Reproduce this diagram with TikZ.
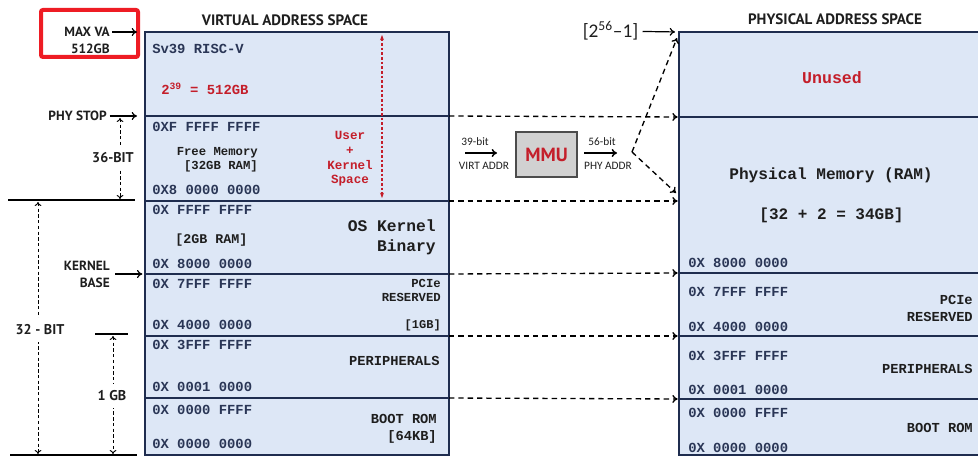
\documentclass[tikz,border=0pt]{standalone}
\usepackage{fontspec}
\setmainfont{Carlito}
\setmonofont{Liberation Mono}
\newfontfamily\sidefont{PT Sans}
\usetikzlibrary{arrows.meta}
\definecolor{bandfill}{HTML}{DDE7F6}
\definecolor{bandline}{HTML}{1F2D4F}
\definecolor{addrcol}{HTML}{2A3656}
\definecolor{lblcol}{HTML}{1E1E1E}
\definecolor{redtxt}{HTML}{C41E2A}
\definecolor{hilite}{HTML}{EE1C24}

\begin{document}
\begin{tikzpicture}[x=0.75pt, y=-0.75pt,
  band/.style={fill=bandfill, draw=bandline, line width=1.9pt},
  mono/.style 2 args={font=\ttfamily\bfseries\fontsize{#1}{#2}\selectfont, inner sep=0pt},
  addr/.style={mono={10.4}{12}, text=addrcol, anchor=west},
  region/.style={mono={10.3}{12.8}, text=lblcol, align=right, anchor=east},
  side/.style={font=\sidefont\bfseries\fontsize{10}{12.75}\selectfont, inner sep=0pt, align=right, text=lblcol},
  bits/.style={side, font=\sidefont\bfseries\fontsize{10.6}{13}\selectfont, fill=white, inner xsep=1pt, inner ysep=5pt},
  ptr/.style={-{To[length=4pt,width=6pt]}, line width=0.9pt},
  span/.style={{To[length=3pt,width=5pt]}-{To[length=3pt,width=5pt]}, line width=0.7pt, dash pattern=on 2.5pt off 1.8pt},
  maparrow/.style={-{To[length=4pt,width=6pt]}, line width=1pt, dash pattern=on 4pt off 3pt},
  small/.style={font=\fontsize{8.5}{10}\selectfont, inner sep=0pt, text=lblcol}]
		\useasboundingbox (0,0) rectangle (978,456);
		% headings
		\node[font=\sidefont\bfseries\fontsize{11.3}{14}\selectfont, text=lblcol] (vhead) at (285,20) {VIRTUAL ADDRESS SPACE};
		\node[font=\sidefont\bfseries\fontsize{11.3}{14}\selectfont, text=lblcol] (phead) at (835,19) {PHYSICAL ADDRESS SPACE};
		% virtual bands: top / bottom / name
		\foreach \yt/\yb/\nm in {32/116/v1, 116/201/v2, 201/274/v3, 274/336/v4, 336/398/v5, 398/455/v6} {
			\filldraw[band] (145,\yt) rectangle (449,\yb);
			\coordinate (\nm-nw) at (145,\yt);
			\coordinate (\nm-ne) at (449,\yt);
		}
		% physical bands
		\foreach \yt/\yb/\nm in {32/117/p1, 117/273/p2, 273/336/p3, 336/399/p4, 399/455/p5} {
			\filldraw[band] (679,\yt) rectangle (992,\yb);
			\coordinate (\nm-nw) at (679,\yt);
		}
		\coordinate (pk) at (679,201);
		% virtual contents
		\node[addr] (sv39) at (152,49) {Sv39 RISC-V};
		\node[addr, text=redtxt] (vsize) at (161,89) {2\textsuperscript{39} = 512GB};
		\node[addr] at (152,127) {0XF FFFF FFFF};
		\node[mono={9.2}{10.5}, text=lblcol, align=right, anchor=east] (freemem) at (258,160) {Free Memory\\{}[32GB RAM]};
		\node[addr] at (152,190) {0X8 0000 0000};
		\node[mono={9.4}{11}, text=redtxt, align=center] (uks) at (350,159) {User\\+\\Kernel\\Space};
		\coordinate (uks-t) at (382,35);
		\coordinate (uks-b) at (382,198);
		\draw[redtxt, {Stealth[length=4pt]}-{Stealth[length=4pt]}, line width=0.8pt, dash pattern=on 2pt off 1.5pt] (uks-t) -- (uks-b);
		\node[addr] at (152,210) {0X FFFF FFFF};
		\node[mono={10}{12}, text=lblcol, anchor=west] at (175,240) {[2GB RAM]};
		\node[mono={12.2}{15}, text=lblcol, align=right, anchor=east] (oskern) at (436,237) {OS Kernel\\Binary};
		\node[addr] at (152,264) {0X 8000 0000};
		\node[addr] at (152,284) {0X 7FFF FFFF};
		\node[mono={9.2}{10}, text=lblcol, align=right, anchor=east] at (441,290.5) {PCIe\\RESERVED};
		\node[addr] at (152,325) {0X 4000 0000};
		\node[mono={9}{10}, text=lblcol, anchor=east] at (441,325) {[1GB]};
		\node[addr] at (152,345) {0X 3FFF FFFF};
		\node[region] at (440,361) {PERIPHERALS};
		\node[addr] at (152,387) {0X 0001 0000};
		\node[addr] at (152,410) {0X 0000 FFFF};
		\node[region] at (437,428.5) {BOOT ROM\\{}[64KB]};
		\node[addr] at (152,444) {0X 0000 0000};
		% physical contents
		\node[mono={12.4}{14}, text=redtxt] (unused) at (832,78) {Unused};
		\node[mono={12.1}{14}, text=lblcol] (ram) at (831,175) {Physical Memory (RAM)};
		\node[mono={12}{14}, text=lblcol] at (831.5,215) {[32 + 2 = 34GB]};
		\node[addr] at (688,263) {0X 8000 0000};
		\node[addr] at (688,292) {0X 7FFF FFFF};
		\node[region] at (973,308.5) {PCIe\\RESERVED};
		\node[addr] at (688,327) {0X 4000 0000};
		\node[addr] at (688,356) {0X 3FFF FFFF};
		\node[region] at (973,369) {PERIPHERALS};
		\node[addr] at (688,390) {0X 0001 0000};
		\node[addr] at (688,413) {0X 0000 FFFF};
		\node[region] at (973,428) {BOOT ROM};
		\node[addr] at (688,448) {0X 0000 0000};
		% mapping arrows
		\foreach \a/\b in {v2-ne/p2-nw, v3-ne/pk, v4-ne/p3-nw, v5-ne/p4-nw, v6-ne/p5-nw}
			\draw[maparrow, shorten >=1pt] (\a) -- (\b);
		% MMU
		\node[draw=black!70, fill=black!18, line width=1.1pt, minimum width=45.75pt, minimum height=33.75pt,
			font=\sidefont\bfseries\fontsize{14.3}{16}\selectfont, text=redtxt] (mmu) at (546.5,154.5) {MMU};
		\coordinate (vin) at (465,153);
		\coordinate (vout) at (497,153);
		\draw[ptr, line width=1.1pt] (vin) -- (vout);
		\node[small] at (475,142) {39-bit};
		\node[small] at (484,166) {VIRT ADDR};
		\coordinate (pin) at (584,153);
		\coordinate (pout) at (617,153);
		\draw[ptr, line width=1.1pt] (pin) -- (pout);
		\node[small] at (602,142) {56-bit};
		\node[small] at (608,166) {PHY ADDR};
		\coordinate (fork) at (632,152);
		\coordinate (ptop) at (677,38);
		\coordinate (pbot) at (676,193);
		\draw[maparrow] (fork) -- (ptop);
		\draw[maparrow] (fork) -- (pbot);
		\node[font=\fontsize{14.5}{16}\selectfont, inner sep=0pt, text=lblcol] (pmax) at (610.5,31) {[2\textsuperscript{56}\textendash1]};
		\draw[ptr, shorten <=3pt, shorten >=3pt] (pmax) -- (p1-nw);
		% left markers
		\draw[hilite, line width=3pt, rounded corners=1.5pt] (41,10) rectangle (138,57);
		\node[side, anchor=east] (maxva) at (110,32) {MAX VA};
		\node[side, anchor=east] (maxgb) at (110,49) {512GB};
		\draw[ptr, shorten <=1.5pt, shorten >=6pt] (maxva) -- (v1-nw);
		\node[side, anchor=east] (phystop) at (107,116) {PHY STOP};
		\draw[ptr, shorten <=2pt, shorten >=6pt] (phystop) -- (v2-nw);
		\node[side, anchor=east] (kbase) at (110,274) {KERNEL\\BASE};
		\draw[ptr, shorten <=4pt, shorten >=2pt] (kbase) -- (v4-nw);
		% bit ranges
		\coordinate (b36t) at (120,118);
		\coordinate (b36b) at (120,199);
		\draw[span] (b36t) -- (b36b);
		\node[bits] at (113,158) {36-BIT};
		\draw[line width=0.9pt] (8,200) -- (135,200);
		\coordinate (b32t) at (38,202);
		\coordinate (b32b) at (38,454);
		\draw[span] (b32t) -- (b32b);
		\node[bits] at (40,330) {32 - BIT};
		\draw[line width=0.9pt] (95,334) -- (128,334);
		\coordinate (b1t) at (113,336);
		\coordinate (b1b) at (113,454);
		\draw[span] (b1t) -- (b1b);
		\node[bits] at (112,396) {1 GB};
		\draw[line width=0.9pt] (10,455) -- (137,455);
	\end{tikzpicture}
\end{document}
